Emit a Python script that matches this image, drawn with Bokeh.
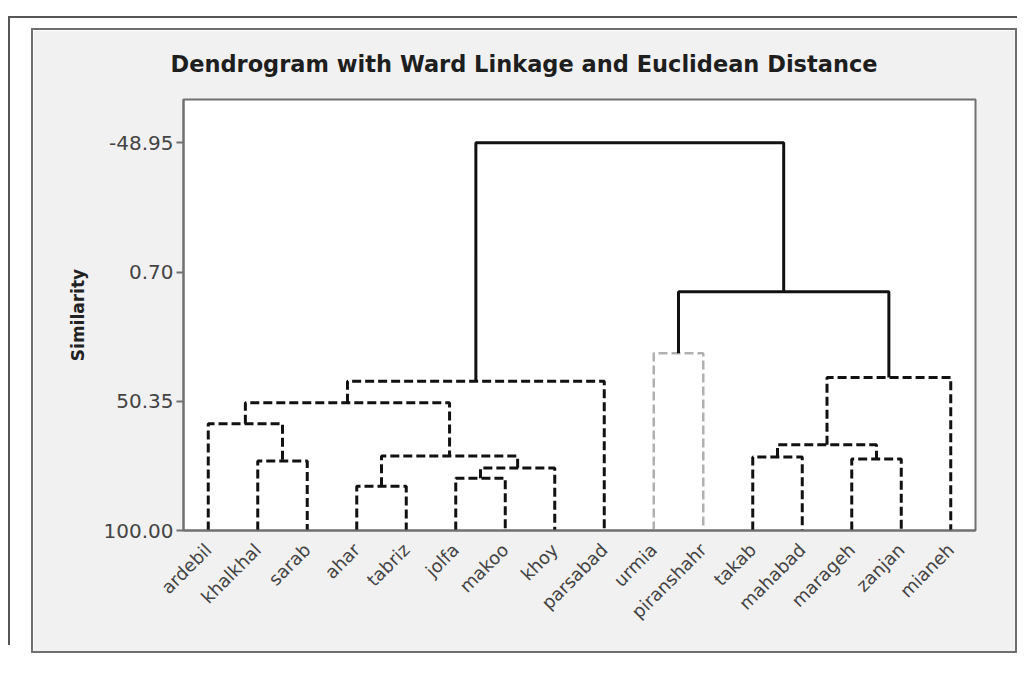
from bokeh.plotting import figure
from bokeh.models import Range1d, FixedTicker, ColumnDataSource, NumeralTickFormatter
from bokeh.layouts import column
from bokeh.embed import file_html
from bokeh.resources import INLINE
from math import pi

# ---------------- data ----------------
leaves = ["ardebil", "khalkhal", "sarab", "ahar", "tabriz", "jolfa", "makoo",
          "khoy", "parsabad", "urmia", "piranshahr", "takab", "mahabad",
          "marageh", "zanjan", "mianeh"]

# merges: indices < 16 are leaves, >= 16 refer to earlier merges (16 = first merge)
merge_left = [1, 0, 3, 5, 19, 18, 17, 22, 9, 11, 13, 25, 27, 24, 23]
merge_right = [2, 16, 4, 6, 7, 20, 21, 8, 10, 12, 14, 26, 15, 28, 29]
merge_similarity = [73.3, 59.0, 83.0, 79.9, 76.0, 71.4, 50.9, 42.7,
                    31.9, 71.8, 72.5, 67.1, 41.2, 8.3, -48.95]
merge_group = ["c1", "c1", "c1", "c1", "c1", "c1", "c1", "c1",
               "c2", "c3", "c3", "c3", "c3", "link", "link"]

y_ticks = [-48.95, 0.70, 50.35, 100.00]
title_text = "Dendrogram with Ward Linkage and Euclidean Distance"
y_label = "Similarity"

# ---------------- layout of the tree ----------------
n = len(leaves)
node_x = [float(i + 1) for i in range(n)]
node_y = [100.0] * n
seg = {}
for a, b, h, g in zip(merge_left, merge_right, merge_similarity, merge_group):
    xa, ya, xb, yb = node_x[a], node_y[a], node_x[b], node_y[b]
    d = seg.setdefault(g, {"xs": [], "ys": []})
    d["xs"].append([xa, xa, xb, xb])
    d["ys"].append([ya, h, h, yb])
    node_x.append((xa + xb) / 2.0)
    node_y.append(h)

styles = {
    "c1": dict(line_color="#111111", line_width=3, line_dash="9 4"),
    "c2": dict(line_color="#b0b0b0", line_width=2.5, line_dash="9 4"),
    "c3": dict(line_color="#111111", line_width=3, line_dash="9 4"),
    "link": dict(line_color="#111111", line_width=3),
}

p = figure(width=982, height=621, output_backend="svg", toolbar_location=None,
           x_range=Range1d(0.5, n + 0.5), y_range=Range1d(100, -65.6),
           min_border_left=150, min_border_right=44, min_border_top=69,
           min_border_bottom=125, title=title_text)

for g, d in seg.items():
    p.multi_line(xs="xs", ys="ys", source=ColumnDataSource(d), **styles[g])

p.background_fill_color = "white"
p.border_fill_color = "#f1f1f1"
p.outline_line_color = "#707070"
p.outline_line_width = 2
p.grid.visible = False

p.title.text_font = "DejaVu Sans"
p.title.text_font_style = "bold"
p.title.text_font_size = "22.5px"
p.title.text_color = "#1e1e1e"
p.title.align = "left"
p.title.vertical_align = "top"
p.title.offset = -13
p.title.standoff = 41

xa = p.xaxis[0]
xa.ticker = FixedTicker(ticks=list(range(1, n + 1)))
xa.major_label_overrides = {i + 1: name for i, name in enumerate(leaves)}
xa.major_label_orientation = pi / 4
xa.major_label_text_font = "DejaVu Sans"
xa.major_label_text_font_size = "18px"
xa.major_label_text_color = "#444444"
xa.major_label_standoff = 10
xa.major_tick_line_color = None
xa.minor_tick_line_color = None
xa.axis_line_color = "#707070"
xa.axis_line_width = 2

ya = p.yaxis[0]
ya.ticker = FixedTicker(ticks=y_ticks)
ya.formatter = NumeralTickFormatter(format="0.00")
ya.major_label_text_font = "DejaVu Sans"
ya.major_label_text_font_size = "20px"
ya.major_label_text_color = "#444444"
ya.major_tick_out = 7
ya.major_tick_in = 0
ya.major_tick_line_color = "#707070"
ya.major_tick_line_width = 2
ya.minor_tick_line_color = None
ya.major_label_standoff = 3
ya.axis_line_color = "#707070"
ya.axis_line_width = 2
ya.axis_label = y_label
ya.axis_label_text_font = "DejaVu Sans"
ya.axis_label_text_font_style = "bold"
ya.axis_label_text_font_size = "17px"
ya.axis_label_text_color = "#222222"
ya.axis_label_standoff = 13

p.styles = {"border": "2px solid #6f6f6f", "box-sizing": "content-box",
            "transform": "translateY(8px)"}

page = column(p, styles={
    "padding-left": "31px", "padding-top": "20px", "overflow": "visible",
    "background-image": "linear-gradient(#555555, #555555), linear-gradient(#555555, #555555)",
    "background-size": "100% 2px, 2px 100%",
    "background-position": "8px 16px, 8px 16px",
    "background-repeat": "no-repeat",
})

open("out.html", "w").write(file_html(page, INLINE))
